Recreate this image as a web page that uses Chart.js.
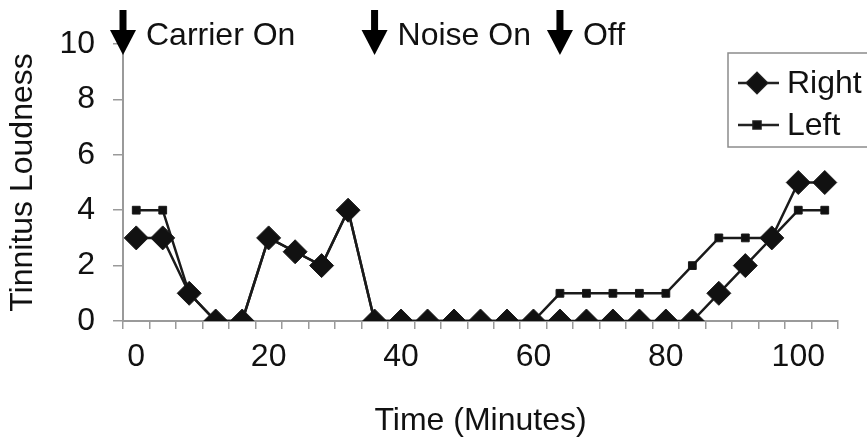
<!DOCTYPE html>
<html>
<head>
<meta charset="utf-8">
<script src="https://cdn.jsdelivr.net/npm/chart.js@4.4.1/dist/chart.umd.min.js"></script>
<style>
  html, body { margin: 0; padding: 0; background: #fff; }
  #wrap { width: 867px; height: 446px; }
</style>
</head>
<body>
<div id="wrap"><canvas id="graficoTinnitus"></canvas></div>
<script>
// minutes, one reading every 4 minutes
const minutes = [0, 4, 8, 12, 16, 20, 24, 28, 32, 36, 40, 44, 48, 52, 56, 60, 64, 68, 72, 76, 80, 84, 88, 92, 96, 100, 104];
const rightEar = [3, 3, 1, 0, 0, 3, 2.5, 2, 4, 0, 0, 0, 0, 0, 0, 0, 0, 0, 0, 0, 0, 0, 1, 2, 3, 5, 5];
const leftEar  = [4, 4, 1, 0, 0, 3, 2.5, 2, 4, 0, 0, 0, 0, 0, 0, 0, 1, 1, 1, 1, 1, 2, 3, 3, 3, 4, 4];
const xTickLabels = ["0", "20", "40", "60", "80", "100"];
const yTicks = [0, 2, 4, 6, 8, 10];

// event markers (arrows across the top)
const eventMinutes = [-2, 36, 64];
const eventLabels = ["Carrier On", "Noise On", "Off"];

const FONT = "'Liberation Sans', Arial, sans-serif";
const INK = "#111";
const AXIS = "#9a9a9a";

function drawArrow(ctx, x) {
  ctx.save();
  ctx.fillStyle = "#000";
  ctx.fillRect(x - 3.5, 10, 7, 22);
  ctx.beginPath();
  ctx.moveTo(x - 13, 30);
  ctx.lineTo(x + 13, 30);
  ctx.lineTo(x, 55);
  ctx.closePath();
  ctx.fill();
  ctx.restore();
}

const extras = {
  id: "extras",
  afterDraw(chart) {
    const ctx = chart.ctx;
    const xs = chart.scales.x;

    // arrows + labels
    ctx.save();
    ctx.font = "32px " + FONT;
    ctx.fillStyle = INK;
    ctx.textBaseline = "alphabetic";
    ctx.textAlign = "left";
    eventMinutes.forEach((m, i) => {
      const px = xs.getPixelForValue(m / 4);
      drawArrow(ctx, px);
      ctx.fillText(eventLabels[i], px + 23, 45);
    });
    ctx.restore();

    // legend box
    ctx.save();
    ctx.strokeStyle = "#8c8c8c";
    ctx.lineWidth = 1.5;
    ctx.strokeRect(728, 53, 150, 94);
    const rows = [
      { y: 83, text: "Right", style: "rectRot", r: 10 },
      { y: 125, text: "Left", style: "rect", r: 5 }
    ];
    rows.forEach(row => {
      ctx.strokeStyle = "#222";
      ctx.lineWidth = 2.5;
      ctx.beginPath();
      ctx.moveTo(738, row.y);
      ctx.lineTo(779, row.y);
      ctx.stroke();
      ctx.fillStyle = "#111";
      Chart.helpers.drawPoint(ctx, { pointStyle: row.style, radius: row.r, borderWidth: 1 }, 757, row.y);
      ctx.fill();
      ctx.fillStyle = INK;
      ctx.font = "32px " + FONT;
      ctx.textBaseline = "middle";
      ctx.fillText(row.text, 787, row.y + 1);
    });
    ctx.restore();
  }
};

const ctx = document.getElementById("graficoTinnitus").getContext("2d");
new Chart(ctx, {
  type: "line",
  data: {
    labels: minutes.map(String),
    datasets: [
      {
        label: "Right",
        data: rightEar,
        borderColor: "#1a1a1a",
        backgroundColor: "#111",
        borderWidth: 2.5,
        pointStyle: "rectRot",
        pointRadius: 12,
        pointBorderWidth: 1,
        tension: 0
      },
      {
        label: "Left",
        data: leftEar,
        borderColor: "#1a1a1a",
        backgroundColor: "#111",
        borderWidth: 2.5,
        pointStyle: "rect",
        pointRadius: 5.5,
        pointBorderWidth: 1,
        tension: 0
      }
    ]
  },
  options: {
    responsive: true,
    maintainAspectRatio: false,
    animation: false,
    layout: { padding: { left: 0, right: 29, top: 44, bottom: 0 } },
    plugins: {
      legend: { display: false },
      tooltip: { enabled: false }
    },
    scales: {
      x: {
        type: "category",
        offset: true,
        afterFit(s) { s.height = 125; },
        border: { color: AXIS, width: 2 },
        grid: {
          offset: true,
          drawOnChartArea: false,
          drawTicks: true,
          tickLength: 8,
          color: AXIS,
          lineWidth: 1.5
        },
        ticks: {
          autoSkip: false,
          maxRotation: 0,
          padding: 9,
          color: INK,
          font: { family: FONT, size: 32 },
          callback: function (val, idx) {
            return idx % 5 === 0 ? xTickLabels[idx / 5] : "";
          }
        },
        title: {
          display: true,
          text: "Time (Minutes)",
          color: INK,
          font: { family: FONT, size: 32 },
          padding: { top: 6, bottom: 6 }
        }
      },
      y: {
        min: 0,
        max: 10,
        afterFit(s) { s.width = 123; },
        afterBuildTicks(s) { s.ticks = yTicks.map(v => ({ value: v })); },
        border: { color: AXIS, width: 2 },
        grid: {
          drawOnChartArea: false,
          drawTicks: true,
          tickLength: 10,
          color: AXIS,
          lineWidth: 1.5
        },
        ticks: {
          padding: 18,
          color: INK,
          font: { family: FONT, size: 32 }
        },
        title: {
          display: true,
          text: "Tinnitus Loudness",
          color: INK,
          font: { family: FONT, size: 32 },
          padding: { top: 4, bottom: 0 }
        }
      }
    }
  },
  plugins: [extras]
});
</script>
</body>
</html>
